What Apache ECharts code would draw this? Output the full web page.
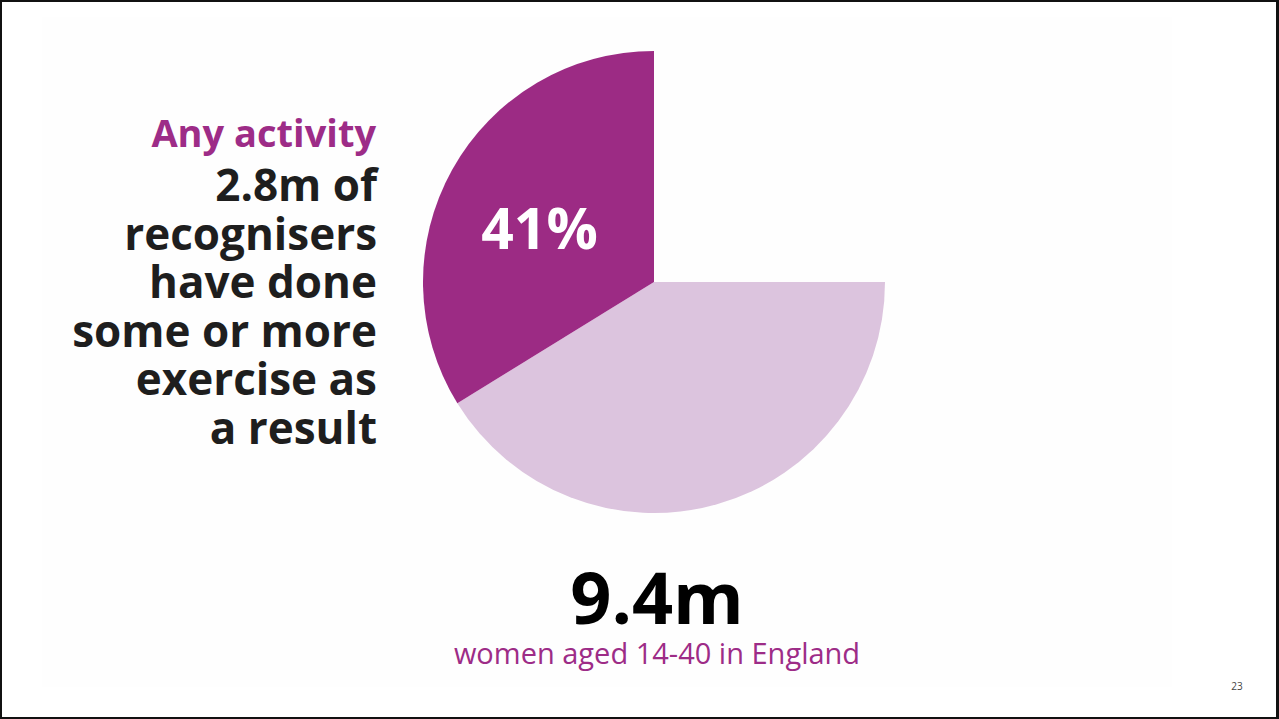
<!DOCTYPE html>
<html>
<head>
<meta charset="utf-8">
<script src="https://cdn.jsdelivr.net/npm/echarts@6/dist/echarts.min.js"></script>
<style>
  html, body { margin: 0; padding: 0; background: #fff; }
  #frame { width: 1279px; height: 719px; box-sizing: border-box; border: 2px solid #111; border-right-width: 3px; background: #fff; }
  #chart { width: 100%; height: 100%; }
</style>
</head>
<body>
<div id="frame"><div id="chart"></div></div>
<script>
// Share of recognisers who did more exercise (percent) vs. the remainder of the arc
const sliceNames = ['Other recognisers', 'Any activity'];
const sliceValues = [50, 41];
const sliceColors = ['#dcc4de', '#9c2b84'];

// Headline copy
const headline = 'Any activity';
const bodyLines = ['2.8m of', 'recognisers', 'have done', 'some or more', 'exercise as', 'a result'];
const totalFigure = '9.4m';
const totalCaption = 'women aged 14-40 in England';
const pageNumber = '23';

const chart = echarts.init(document.getElementById('chart'), null, { renderer: 'svg' });

const FONT = '"Open Sans", "Noto Sans", sans-serif';
const LINE_H = 48.6;
const graphics = [
  { type: 'rect', silent: true, z: -10, shape: { x: 40, y: 15, width: 1130, height: 670 }, style: { fill: '#fefefe' } },
  { type: 'text', x: 374, y: 130, style: { text: headline, fill: '#9d2c87', font: '700 38px ' + FONT, textAlign: 'right', textVerticalAlign: 'middle' } },
  { type: 'text', x: 375, y: 182 - LINE_H / 2, style: { text: bodyLines.join('\n'), fill: '#1e1e1e', font: '700 44px ' + FONT, lineHeight: LINE_H, textAlign: 'right', textVerticalAlign: 'top' } },
  { type: 'text', x: 655, y: 594, style: { text: totalFigure, fill: '#000', font: '700 72px ' + FONT, textAlign: 'center', textVerticalAlign: 'middle' } },
  { type: 'text', x: 655, y: 650, style: { text: totalCaption, fill: '#9d2c87', font: '400 29px ' + FONT, textAlign: 'center', textVerticalAlign: 'middle' } },
  { type: 'text', x: 1235, y: 684, style: { text: pageNumber, fill: '#444', font: '400 10px ' + FONT, textAlign: 'center', textVerticalAlign: 'middle' } }
];

chart.setOption({
  animation: false,
  backgroundColor: 'transparent',
  graphic: graphics,
  series: [{
    type: 'pie',
    center: [652, 280],
    radius: [0, 231],
    startAngle: 0,
    endAngle: -270,
    clockwise: true,
    silent: true,
    labelLine: { show: false },
    data: sliceNames.map((n, i) => ({
      name: n,
      value: sliceValues[i],
      itemStyle: { color: sliceColors[i], borderWidth: 0 },
      label: i === 1 ? {
        show: true,
        position: 'inside',
        formatter: p => p.value + '%',
        color: '#fff',
        fontFamily: FONT,
        fontWeight: 700,
        fontSize: 57,
        offset: [-11, 3]
      } : { show: false }
    }))
  }]
});
</script>
</body>
</html>
